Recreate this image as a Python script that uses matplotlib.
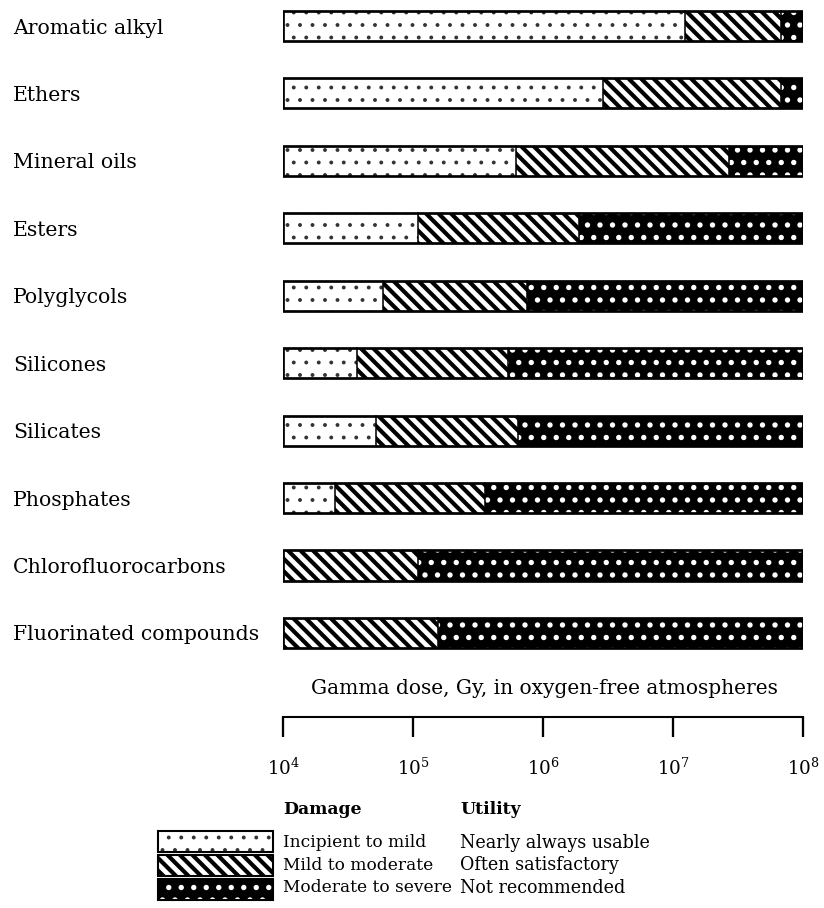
import matplotlib
matplotlib.use("Agg")
import matplotlib.pyplot as plt
from matplotlib.patches import Rectangle
from matplotlib.ticker import LogLocator, LogFormatterMathtext, NullLocator

plt.rcParams['font.family'] = ['DejaVu Serif']
plt.rcParams['mathtext.fontset'] = 'dejavuserif'

# gamma dose (Gy) where each damage class ends
categories = ['Aromatic alkyl', 'Ethers', 'Mineral oils', 'Esters', 'Polyglycols',
              'Silicones', 'Silicates', 'Phosphates', 'Chlorofluorocarbons',
              'Fluorinated compounds']
min_dose = 1e4
mild_end = [1.24e7, 2.9e6, 6.2e5, 1.1e5, 5.9e4, 3.7e4, 5.2e4, 2.5e4, 1e4, 1e4]
moderate_end = [6.8e7, 6.8e7, 2.7e7, 1.9e6, 7.5e5, 5.4e5, 6.4e5, 3.6e5, 1.1e5, 1.55e5]
max_dose = 1e8

damage = ['Incipient to mild', 'Mild to moderate', 'Moderate to severe']
utility = ['Nearly always usable', 'Often satisfactory', 'Not recommended']

W, H, DPI = 824, 909, 75
fig = plt.figure(figsize=(W / DPI, H / DPI), dpi=DPI)

# pattern styles: (face, hatch colour, hatch, hatch linewidth)
styles = [('white', '#333333', '.', 1.3),
          ('white', 'black', '\\\\', 4.0),
          ('black', 'white', '.', 2.7)]


def set_hlw(p, hlw):
    try:
        p.set_hatch_linewidth(hlw)
    except AttributeError:
        pass


def draw_bar(ax, y, left, right, style, h):
    face, hc, hatch, hlw = style
    if right <= left:
        return
    with plt.rc_context({'hatch.linewidth': hlw}):
        b = ax.barh(y, right - left, left=left, height=h, color=face,
                    edgecolor=hc, hatch=hatch, linewidth=0)
    for p in b:
        set_hlw(p, hlw)


# main bar area
ax = fig.add_axes([283 / W, 1 - 668 / H, 520 / W, 668 / H])
ax.set_xscale('log')
ax.set_xlim(min_dose, max_dose)
ax.set_ylim(9.505, -0.4)
bh = 0.445
for i, name in enumerate(categories):
    bounds = [min_dose, mild_end[i], moderate_end[i], max_dose]
    for k in range(3):
        draw_bar(ax, i, bounds[k], bounds[k + 1], styles[k], bh)
        if bounds[k] > min_dose:
            ax.plot([bounds[k], bounds[k]], [i - bh / 2, i + bh / 2], color='black', lw=1.5)
    ax.barh(i, max_dose - min_dose, left=min_dose, height=bh, facecolor='none',
            edgecolor='black', linewidth=2.6)
    fig.text(13 / W, 1 - (28 + 67.44 * i) / H, name, fontsize=19.5, va='center', ha='left')
ax.axis('off')

# dose scale
ax2 = fig.add_axes([283 / W, 1 - 718 / H, 520 / W, 0.0001])
ax2.set_xscale('log')
ax2.set_xlim(min_dose, max_dose)
ax2.set_yticks([])
for s in ['top', 'left', 'right']:
    ax2.spines[s].set_visible(False)
ax2.spines['bottom'].set_linewidth(2)
ax2.xaxis.set_major_locator(LogLocator(base=10, numticks=10))
ax2.xaxis.set_major_formatter(LogFormatterMathtext())
ax2.xaxis.set_minor_locator(NullLocator())
ax2.tick_params(axis='x', direction='out', length=19, width=2.2, labelsize=17.5, pad=19)
ax2.patch.set_visible(False)
fig.text(544 / W, 1 - 688 / H, 'Gamma dose, Gy, in oxygen-free atmospheres',
         fontsize=19.3, ha='center', va='center')

# legend
lg = fig.add_axes([0, 0, 1, 1])
lg.set_xlim(0, W)
lg.set_ylim(H, 0)
lg.axis('off')
fig.text(283 / W, 1 - 810 / H, 'Damage', fontsize=16.5, fontweight='bold', va='center')
fig.text(460 / W, 1 - 810 / H, 'Utility', fontsize=16.5, fontweight='bold', va='center')
for k in range(3):
    y0 = 832 + 24 * k
    face, hc, hatch, hlw = styles[k]
    with plt.rc_context({'hatch.linewidth': hlw}):
        r = Rectangle((158, y0), 115, 21, facecolor=face, edgecolor=hc, hatch=hatch, linewidth=0)
    set_hlw(r, hlw)
    lg.add_patch(r)
    lg.add_patch(Rectangle((158, y0), 115, 21, facecolor='none', edgecolor='black', linewidth=2))
    fig.text(283 / W, 1 - (843 + 22.5 * k) / H, damage[k], fontsize=16.3, va='center')
    fig.text(460 / W, 1 - (843 + 22.5 * k) / H, utility[k], fontsize=16.8, va='center')

fig.savefig('out.png', dpi=DPI)
